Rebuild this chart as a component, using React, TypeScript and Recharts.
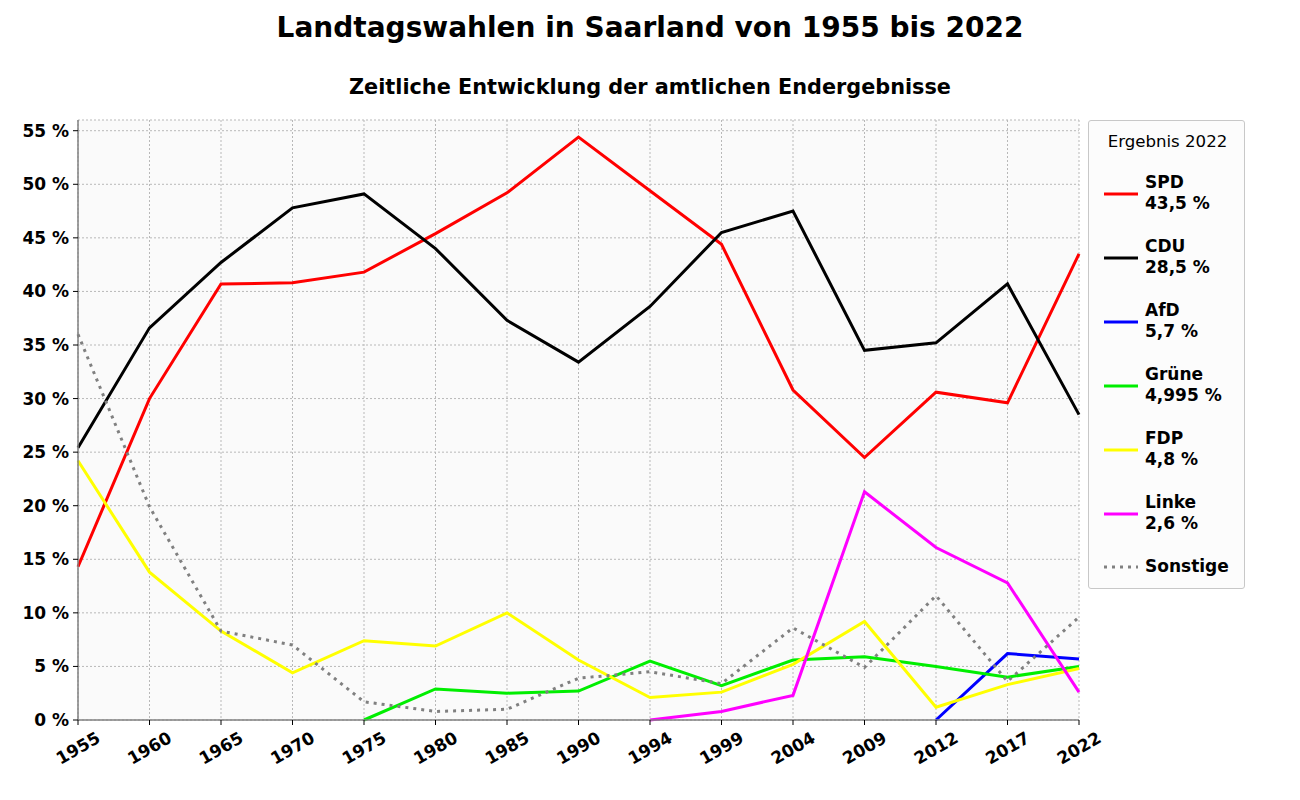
import React from 'react';
import {
  LineChart,
  Line,
  XAxis,
  YAxis,
  CartesianGrid,
} from 'recharts';

const years = ['1955', '1960', '1965', '1970', '1975', '1980', '1985', '1990', '1994', '1999', '2004', '2009', '2012', '2017', '2022'];

const spd = [14.3, 30.0, 40.7, 40.8, 41.8, 45.4, 49.2, 54.4, 49.4, 44.4, 30.8, 24.5, 30.6, 29.6, 43.5];
const cdu = [25.4, 36.6, 42.7, 47.8, 49.1, 44.0, 37.3, 33.4, 38.6, 45.5, 47.5, 34.5, 35.2, 40.7, 28.5];
const afd = [null, null, null, null, null, null, null, null, null, null, null, null, 0, 6.2, 5.7];
const gruene = [null, null, null, null, 0, 2.9, 2.5, 2.7, 5.5, 3.2, 5.6, 5.9, 5.0, 4.0, 4.995];
const fdp = [24.2, 13.8, 8.3, 4.4, 7.4, 6.9, 10.0, 5.6, 2.1, 2.6, 5.2, 9.2, 1.2, 3.3, 4.8];
const linke = [null, null, null, null, null, null, null, null, 0, 0.8, 2.3, 21.3, 16.1, 12.8, 2.6];
const sonstige = [36.0, 19.9, 8.3, 7.0, 1.7, 0.8, 1.0, 3.9, 4.5, 3.4, 8.6, 4.9, 11.6, 3.6, 9.6];

const yTicks = [0, 5, 10, 15, 20, 25, 30, 35, 40, 45, 50, 55];

const parties = [
  { key: 'spd', name: 'SPD', result: '43,5 %', color: '#ff0000', values: spd },
  { key: 'cdu', name: 'CDU', result: '28,5 %', color: '#000000', values: cdu },
  { key: 'afd', name: 'AfD', result: '5,7 %', color: '#0000ff', values: afd },
  { key: 'gruene', name: 'Grüne', result: '4,995 %', color: '#00ee00', values: gruene },
  { key: 'fdp', name: 'FDP', result: '4,8 %', color: '#ffff00', values: fdp },
  { key: 'linke', name: 'Linke', result: '2,6 %', color: '#ff00ff', values: linke },
  { key: 'sonstige', name: 'Sonstige', result: '', color: '#808080', values: sonstige, dotted: true },
];

const data = years.map((year, i) => {
  const row: any = { year };
  parties.forEach((p) => {
    row[p.key] = p.values[i];
  });
  return row;
});

const font = '"DejaVu Sans", sans-serif';

const XTick = ({ x, y, payload }: any) => (
  <text
    x={x}
    y={y + 21}
    transform={`rotate(-30, ${x}, ${y + 21})`}
    textAnchor="middle"
    dominantBaseline="central"
    fontFamily={font}
    fontWeight="bold"
    fontSize={17}
    fill="#000"
  >
    {payload.value}
  </text>
);

export default function App() {
  return (
    <div style={{ position: 'relative', width: 1300, height: 800, margin: -8, background: '#fff', fontFamily: font }}>
      <div style={{ position: 'absolute', top: 11, left: 0, width: 1300, textAlign: 'center', fontSize: 28, fontWeight: 'bold' }}>
        Landtagswahlen in Saarland von 1955 bis 2022
      </div>
      <div style={{ position: 'absolute', top: 75, left: 0, width: 1300, textAlign: 'center', fontSize: 20.8, fontWeight: 'bold' }}>
        Zeitliche Entwicklung der amtlichen Endergebnisse
      </div>
      <div style={{ position: 'absolute', top: 0, left: 0 }}>
        <LineChart width={1300} height={800} data={data} margin={{ top: 120, right: 221, left: 8, bottom: 20 }}>
          <CartesianGrid stroke="#b8b8b8" strokeDasharray="2 2" fill="#fafafa" />
          <XAxis
            dataKey="year"
            height={60}
            interval={0}
            tick={<XTick />}
            tickLine={{ stroke: '#000' }}
            axisLine={{ stroke: '#808080', strokeWidth: 1.5 }}
            tickSize={5}
          />
          <XAxis xAxisId="top" dataKey="year" orientation="top" height={0} tick={false} tickLine={false} axisLine={{ stroke: '#808080', strokeWidth: 1.5 }} />
          <YAxis
            width={70}
            domain={[0, 56]}
            ticks={yTicks}
            interval={0}
            tickFormatter={(v) => `${v} %`}
            tick={{ fill: '#000', fontSize: 17, fontWeight: 'bold', fontFamily: font }}
            tickLine={{ stroke: '#000' }}
            axisLine={{ stroke: '#808080', strokeWidth: 1.5 }}
            tickSize={5}
            tickMargin={4}
          />
          <YAxis yAxisId="right" orientation="right" width={0} tick={false} tickLine={false} axisLine={{ stroke: '#808080', strokeWidth: 1.5 }} />
          {parties.map((p) => (
            <Line
              key={p.key}
              type="linear"
              dataKey={p.key}
              stroke={p.color}
              strokeWidth={3}
              strokeDasharray={p.dotted ? '3 5' : undefined}
              dot={false}
              activeDot={false}
              isAnimationActive={false}
            />
          ))}
        </LineChart>
      </div>
      <div
        style={{
          position: 'absolute',
          left: 1088,
          top: 120,
          width: 157,
          height: 469,
          border: '1px solid #c8c8c8',
          borderRadius: 3,
          background: '#fcfcfc',
          boxSizing: 'border-box',
        }}
      >
        <div style={{ position: 'absolute', top: 11, left: 0, width: 157, textAlign: 'center', fontSize: 16.6 }}>Ergebnis 2022</div>
        {parties.map((p, i) => {
          const lineY = p.dotted ? 446 : 73 + i * 64;
          return (
            <React.Fragment key={p.key}>
              <svg style={{ position: 'absolute', left: 14, top: lineY - 4 }} width={36} height={8}>
                <line x1={1} y1={4} x2={35} y2={4} stroke={p.color} strokeWidth={3} strokeDasharray={p.dotted ? '3 5' : undefined} />
              </svg>
              <div
                style={{
                  position: 'absolute',
                  left: 56,
                  top: p.dotted ? lineY - 11 : lineY - 22,
                  fontSize: 17,
                  fontWeight: 'bold',
                  lineHeight: '21px',
                  whiteSpace: 'nowrap',
                }}
              >
                {p.name}
                {p.result && <br />}
                {p.result}
              </div>
            </React.Fragment>
          );
        })}
      </div>
    </div>
  );
}
